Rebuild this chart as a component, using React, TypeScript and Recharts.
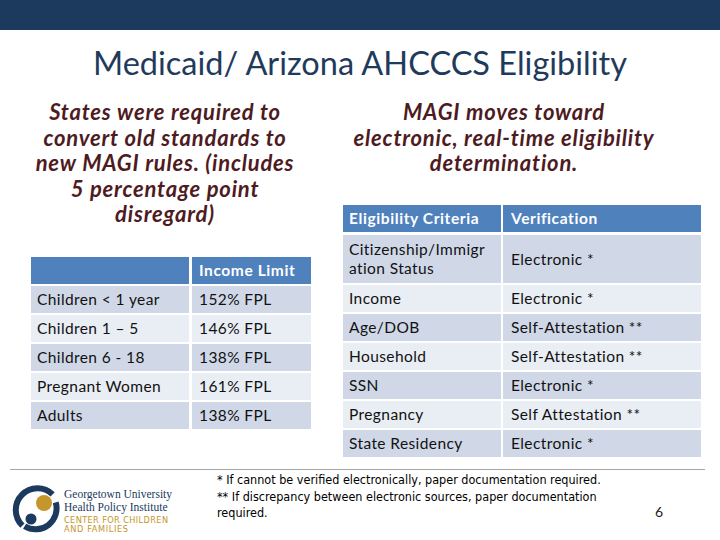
import React from 'react';
import { BarChart, Bar, XAxis, YAxis } from 'recharts';

// ---------- data ----------
const groups = ['Children < 1 year', 'Children 1 – 5', 'Children 6 - 18', 'Pregnant Women', 'Adults'];
const incomeLimits = [152, 146, 138, 161, 138];
const leftHeader = ['', 'Income Limit'];

const rightHeader = ['Eligibility Criteria', 'Verification'];
const criteria = [
  ['Citizenship/Immigr', 'ation Status'],
  ['Income'],
  ['Age/DOB'],
  ['Household'],
  ['SSN'],
  ['Pregnancy'],
  ['State Residency'],
];
const verification = [
  'Electronic *',
  'Electronic *',
  'Self-Attestation **',
  'Self-Attestation **',
  'Electronic *',
  'Self Attestation **',
  'Electronic *',
];

const title = 'Medicaid/ Arizona AHCCCS Eligibility';
const leftNote = ['States were required to', 'convert old standards to', 'new MAGI rules. (includes', '5 percentage point', 'disregard)'];
const rightNote = ['MAGI moves toward', 'electronic, real-time eligibility', 'determination.'];
const footnotes = [
  '* If cannot be verified electronically, paper documentation required.',
  '** If discrepancy between electronic sources, paper documentation',
  'required.',
];
const pageNumber = '6';
const logoLines = ['Georgetown University', 'Health Policy Institute', 'CENTER FOR CHILDREN', 'AND FAMILIES'];

// ---------- tables built from arrays ----------
const leftRows = [
  { key: 'header', header: true, span: 1, cells: leftHeader.map((t) => [t]) },
  ...groups.map((g, i) => ({ key: g, header: false, span: 1, cells: [[g], [`${incomeLimits[i]}% FPL`]] })),
];
const rightHeaderRows = [{ key: 'header', header: true, span: 1, cells: rightHeader.map((t) => [t]) }];
const rightRows = criteria.map((c, i) => ({ key: c.join(''), header: false, span: 1, cells: [c, [verification[i]]] }));

// ---------- styles ----------
const FONT = 'Lato, "Open Sans", sans-serif';
const HEADER_BLUE = '#4F81BD';
const DARK_ROW = '#D0D8E8';
const LIGHT_ROW = '#E9EDF4';
const NAVY = '#1B3A5E';
const MAROON = '#4E1B1F';
const GOLD = '#C4962C';

type Cfg = { col1: number; gap: number; darkParity: number; lineStep: number; pad2: number };

function renderRow(p: any, cfg: Cfg) {
  const { x, y, width, height, payload, index } = p;
  const cells: string[][] = payload.cells;
  const nLines = Math.max(...cells.map((c) => c.length));
  const extra = (nLines - 1) * cfg.lineStep;
  const top = y - extra;
  const h = height + extra;
  const isHeader = payload.header;
  const fill = isHeader ? HEADER_BLUE : index % 2 === cfg.darkParity ? DARK_ROW : LIGHT_ROW;
  const xs = [x, x + cfg.col1 + cfg.gap];
  const ws = [cfg.col1, width - cfg.col1 - cfg.gap];
  const pads = [6, cfg.pad2];
  return (
    <g>
      {xs.map((cx, i) => (
        <g key={i}>
          <rect x={cx} y={top} width={ws[i]} height={h} fill={fill} />
          {cells[i].map((t, j) => (
            <text
              key={j}
              x={cx + pads[i]}
              y={top + h / 2 + 5.5 + (j - (cells[i].length - 1) / 2) * 19}
              fontFamily={FONT}
              fontSize={15.5}
              letterSpacing={isHeader ? 0.6 : 0.4}
              fontWeight={isHeader ? 700 : 400}
              fill={isHeader ? '#FFFFFF' : '#111111'}
            >
              {t}
            </text>
          ))}
        </g>
      ))}
    </g>
  );
}

function TableChart({ rows, width, height, marginTop, cfg }: any) {
  return (
    <BarChart
      width={width}
      height={height}
      data={rows}
      layout="vertical"
      margin={{ top: marginTop, right: 0, bottom: 0, left: 0 }}
      barSize={27}
    >
      <XAxis type="number" hide domain={[0, 1]} />
      <YAxis type="category" dataKey="key" hide />
      <Bar dataKey="span" isAnimationActive={false} shape={(p: any) => renderRow(p, cfg)} />
    </BarChart>
  );
}

export default function App() {
  return (
    <div style={{ position: 'absolute', left: 0, top: 0, width: 720, height: 540, background: '#fff', overflow: 'hidden' }}>
      <svg width={720} height={540} style={{ position: 'absolute', left: 0, top: 0 }}>
        <rect x={0} y={0} width={720} height={30} fill={NAVY} />
        <text x={360} y={75} textAnchor="middle" fontFamily={FONT} fontSize={32.5} fill="#1F3B5C">
          {title}
        </text>
        {leftNote.map((t, i) => (
          <text key={i} x={165} y={120 + i * 25.5} textAnchor="middle" fontFamily={FONT} fontSize={22} letterSpacing={0.8} fontWeight={700} fontStyle="italic" fill={MAROON}>
            {t}
          </text>
        ))}
        {rightNote.map((t, i) => (
          <text key={i} x={504} y={120 + i * 25.5} textAnchor="middle" fontFamily={FONT} fontSize={22} letterSpacing={0.8} fontWeight={700} fontStyle="italic" fill={MAROON}>
            {t}
          </text>
        ))}
        <line x1={10} x2={705} y1={469.5} y2={469.5} stroke="#A6A6A6" strokeWidth={1} />
        {footnotes.map((t, i) => (
          <text key={i} x={217} y={484 + i * 16.5} fontFamily='"Liberation Sans Narrow", "DejaVu Sans Condensed", sans-serif' fontSize={12.5} fill="#000">
            {t}
          </text>
        ))}
        <text x={655} y={517} fontFamily={FONT} fontSize={14} fill="#222">
          {pageNumber}
        </text>
        {/* logo */}
        <g>
          <path d="M 52.6 494.4 A 21 21 0 1 0 22.4 525.6" fill="none" stroke={NAVY} strokeWidth={6} />
          <path d="M 27 527.9 A 21 21 0 0 0 54.5 500" fill="none" stroke={NAVY} strokeWidth={6} transform="rotate(8 37.5 510)" />
          <circle cx={44} cy={503} r={8} fill={GOLD} />
          <circle cx={31} cy={519} r={5.5} fill={NAVY} />
          <text x={64} y={498} fontFamily='"Liberation Serif", "DejaVu Serif", serif' fontSize={11.5} fill={NAVY}>{logoLines[0]}</text>
          <text x={64} y={510.5} fontFamily='"Liberation Serif", "DejaVu Serif", serif' fontSize={11.5} fill={NAVY}>{logoLines[1]}</text>
          <text x={64} y={522.5} fontFamily='"DejaVu Sans", sans-serif' fontSize={8.2} textLength={104} lengthAdjust="spacing" fill={GOLD}>{logoLines[2]}</text>
          <text x={64} y={532} fontFamily='"DejaVu Sans", sans-serif' fontSize={8.2} textLength={64} lengthAdjust="spacing" fill={GOLD}>{logoLines[3]}</text>
        </g>
      </svg>
      <div style={{ position: 'absolute', left: 31, top: 256 }}>
        <TableChart rows={leftRows} width={280} height={174} marginTop={0} cfg={{ col1: 158, gap: 3, darkParity: 1, lineStep: 21, pad2: 7 }} />
      </div>
      <div style={{ position: 'absolute', left: 343, top: 204 }}>
        <TableChart rows={rightHeaderRows} width={358} height={29} marginTop={0} cfg={{ col1: 158, gap: 2, darkParity: 0, lineStep: 21, pad2: 8 }} />
      </div>
      <div style={{ position: 'absolute', left: 343, top: 234 }}>
        <TableChart rows={rightRows} width={358} height={224} marginTop={21} cfg={{ col1: 158, gap: 2, darkParity: 0, lineStep: 21, pad2: 8 }} />
      </div>
    </div>
  );
}
